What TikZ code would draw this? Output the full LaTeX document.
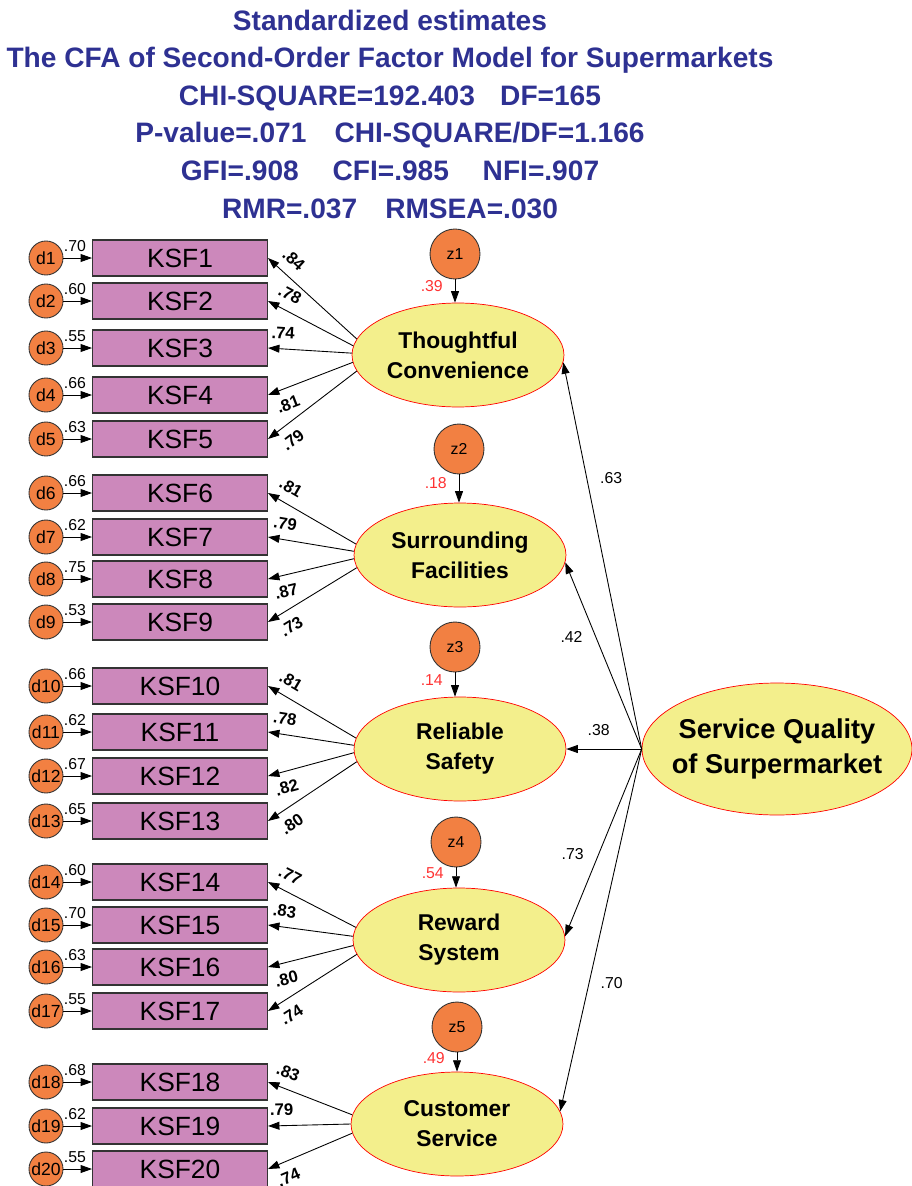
\documentclass[tikz,border=0pt]{standalone}
\usepackage{fontspec}
\setmainfont{Liberation Sans}
\usetikzlibrary{arrows.meta, shapes.geometric}
\definecolor{titleblue}{RGB}{46,49,146}
\definecolor{boxfill}{RGB}{204,136,187}
\definecolor{errfill}{RGB}{242,128,66}
\definecolor{ellfill}{RGB}{243,239,140}
\definecolor{redlab}{RGB}{255,51,51}
\tikzset{
    pathto/.style={draw, line width=0.5pt, -{Triangle[length=6.5pt, width=4.5pt]}},
    ksfbox/.style={rectangle, draw=black!80, line width=0.6pt, fill=boxfill,
        minimum width=3.5cm, minimum height=0.72cm, inner sep=0pt,
        font=\fontsize{15}{18}\selectfont},
    errcirc/.style={circle, draw=black!80, line width=0.5pt, fill=errfill,
        minimum size=0.68cm, inner sep=0pt, font=\fontsize{10}{12}\selectfont},
    distcirc/.style={circle, draw=black!80, line width=0.5pt, fill=errfill,
        minimum size=1cm, inner sep=0pt, font=\fontsize{9}{11}\selectfont},
    factor/.style={ellipse, draw=red, line width=0.4pt, fill=ellfill,
        minimum width=4.24cm, minimum height=2.08cm, inner sep=0pt, align=center,
        font=\fontsize{13}{17}\selectfont\bfseries},
    errlab/.style={pos=0, anchor=south west, inner sep=0pt, yshift=3.2pt,
        font=\fontsize{9}{10}\selectfont},
    loadlab/.style={pos=0.83, sloped, inner sep=1pt,
        font=\fontsize{9.5}{11}\selectfont\bfseries},
    loadup/.style={above=4.5pt},
    loaddown/.style={below=4.5pt},
    redtext/.style={pos=0.3, left=3.4pt, text=redlab, font=\fontsize{9}{11}\selectfont},
    solab/.style={font=\fontsize{9}{11}\selectfont}
}
\begin{document}
\begin{tikzpicture}[x=0.02cm, y=-0.02cm]
    \useasboundingbox (0,0) rectangle (912,1186);

    \node[text=titleblue, align=center, font=\fontsize{16}{21.4}\selectfont\bfseries] (title) at (390,114)
    {Standardized estimates\\
     The CFA of Second-Order Factor Model for Supermarkets\\
     CHI-SQUARE=192.403\hspace{0.9em}DF=165\\
     P-value=.071\quad CHI-SQUARE/DF=1.166\\
     GFI=.908\hspace{1.2em}CFI=.985\hspace{1.2em}NFI=.907\\
     RMR=.037\quad RMSEA=.030};

    % indicators with their error terms
    \foreach \i/\y/\e in {1/258/.70, 2/301/.60, 3/348/.55, 4/395/.66, 5/439/.63,
        6/493/.66, 7/537/.62, 8/579/.75, 9/622/.53,
        10/686/.66, 11/732/.62, 12/776/.67, 13/821/.65,
        14/882/.60, 15/925/.70, 16/967/.63, 17/1011/.55,
        18/1082/.68, 19/1126/.62, 20/1169/.55}
    {
        \node[ksfbox] (k\i) at (180,\y) {KSF\i};
        \node[errcirc] (d\i) at (46,\y) {d\i};
        \draw[pathto] (d\i) -- (k\i) node[errlab] {\e};
    }

    % first-order factors
    \node[factor] (tc) at (458,355) {Thoughtful\\Convenience};
    \node[factor] (sf) at (460,555) {Surrounding\\Facilities};
    \node[factor] (rs) at (460,749) {Reliable\\Safety};
    \node[factor] (rw) at (459,940) {Reward\\System};
    \node[factor] (cs) at (457,1124) {Customer\\Service};

    % second-order factor
    \node[factor, minimum width=5.4cm, minimum height=2.64cm, inner xsep=-6pt,
        font=\fontsize{15.5}{20}\selectfont\bfseries] (sq) at (777,749)
        {Service Quality\\of Surpermarket};

    % disturbances
    \foreach \z/\f/\x/\y/\r in {1/tc/455/254/.39, 2/sf/459/449/.18, 3/rs/455/647/.14,
        4/rw/456/842/.54, 5/cs/457/1027/.49}
    {
        \node[distcirc] (z\z) at (\x,\y) {z\z};
        \draw[pathto] (z\z) -- (z\z.south |- \f.north) node[redtext] {\r};
    }

    % loadings
    \foreach \f/\i/\a/\l/\s in {tc/1/171/.84/loadup, tc/2/175/.78/loadup, tc/3/179/.74/loadup,
        tc/4/184/.81/loaddown, tc/5/189/.79/loaddown,
        sf/6/174/.81/loadup, sf/7/178/.79/loadup, sf/8/182/.87/loaddown, sf/9/187/.73/loaddown,
        rs/10/174/.81/loadup, rs/11/178/.78/loadup, rs/12/182/.82/loaddown, rs/13/187/.80/loaddown,
        rw/14/173/.77/loadup, rw/15/178/.83/loadup, rw/16/183/.80/loaddown, rw/17/188/.74/loaddown,
        cs/18/175/.83/loadup, cs/19/180/.79/loadup, cs/20/185/.74/loaddown}
    {
        \draw[pathto] (\f.\a) -- (k\i.east) node[loadlab, \s] {\l};
    }

    % second-order paths
    \draw[pathto] (sq.west) -- (tc.-4) node[solab, pos=0.7, right=4pt] {.63};
    \draw[pathto] (sq.west) -- (sf.-4) node[solab, pos=0.6, left=4pt] {.42};
    \draw[pathto] (sq.west) -- (rs.east) node[solab, pos=0.57, above=4pt] {.38};
    \draw[pathto] (sq.west) -- (rw.2) node[solab, pos=0.56, left=5pt] {.73};
    \draw[pathto] (sq.west) -- (cs.7) node[solab, pos=0.645, right=3pt] {.70};

\end{tikzpicture}
\end{document}
